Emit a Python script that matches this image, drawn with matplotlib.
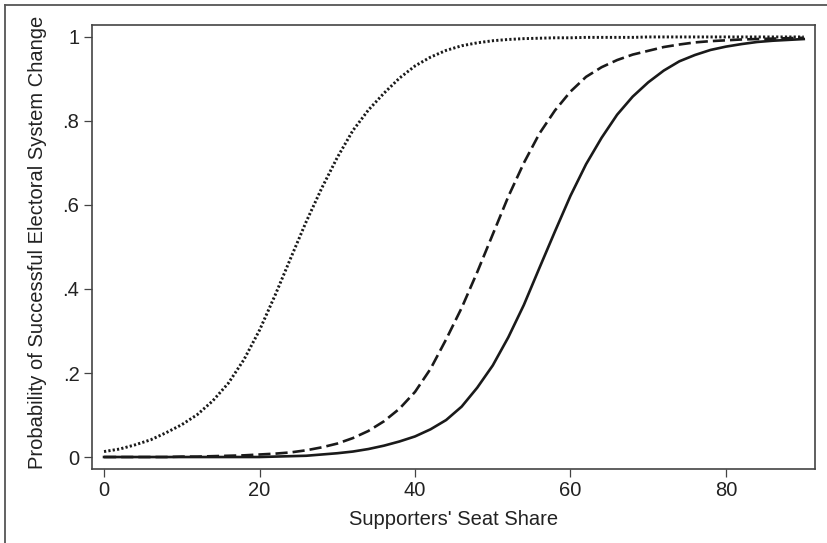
import numpy as np
import matplotlib
matplotlib.use("Agg")
import matplotlib.pyplot as plt
from matplotlib.lines import Line2D

# seat share grid and probabilities
seat_share = np.arange(0, 92, 2)

prob_dotted = [0.013, 0.019, 0.029, 0.041, 0.058, 0.077, 0.101, 0.134, 0.176, 0.232,
               0.302, 0.385, 0.473, 0.560, 0.640, 0.713, 0.777, 0.826, 0.866, 0.902,
               0.931, 0.952, 0.968, 0.979, 0.986, 0.991, 0.994, 0.996, 0.997, 0.998,
               0.998, 0.999, 0.999, 0.999, 0.999, 1.000, 1.000, 1.000, 1.000, 1.000,
               1.000, 1.000, 1.000, 1.000, 1.000, 1.000]

prob_dashed = [0.000, 0.000, 0.000, 0.000, 0.000, 0.001, 0.001, 0.002, 0.003, 0.004,
               0.006, 0.008, 0.011, 0.016, 0.023, 0.032, 0.045, 0.062, 0.085, 0.115,
               0.155, 0.210, 0.280, 0.355, 0.440, 0.530, 0.620, 0.700, 0.770, 0.825,
               0.870, 0.905, 0.928, 0.945, 0.958, 0.967, 0.976, 0.982, 0.987, 0.990,
               0.992, 0.994, 0.995, 0.996, 0.997, 0.998]

prob_solid = [0.000, 0.000, 0.000, 0.000, 0.000, 0.000, 0.000, 0.000, 0.000, 0.000,
              0.000, 0.001, 0.002, 0.003, 0.006, 0.009, 0.013, 0.019, 0.027, 0.037,
              0.049, 0.066, 0.088, 0.120, 0.165, 0.218, 0.285, 0.362, 0.450, 0.537,
              0.622, 0.697, 0.760, 0.815, 0.858, 0.892, 0.920, 0.942, 0.957, 0.969,
              0.977, 0.983, 0.988, 0.991, 0.993, 0.995]

x_ticks = [0, 20, 40, 60, 80]
y_ticks = [0, 0.2, 0.4, 0.6, 0.8, 1.0]
y_tick_labels = ["0", ".2", ".4", ".6", ".8", "1"]

plt.rcParams['font.family'] = ['Liberation Sans', 'DejaVu Sans']

fig = plt.figure(figsize=(8.28, 5.43), dpi=100)
ax = fig.add_axes([0.1111, 0.1363, 0.8732, 0.8177])

ink = '#1a1a1a'
ax.plot(seat_share, prob_dotted, color=ink, lw=2.1, linestyle=(0, (0.75, 0.75)),
        solid_joinstyle='round')
ax.plot(seat_share, prob_dashed, color=ink, lw=1.9, linestyle=(0, (4.6, 1.9)),
        solid_joinstyle='round')
ax.plot(seat_share, prob_solid, color=ink, lw=1.9, solid_joinstyle='round')

ax.set_xlim(-1.55, 91.45)
ax.set_ylim(-0.0285, 1.0285)
ax.set_xticks(x_ticks)
ax.set_yticks(y_ticks)
ax.set_yticklabels(y_tick_labels)
ax.tick_params(length=6, width=0.9, color='#444444', labelsize=14.5, pad=3, labelcolor='#222222')

for s in ax.spines.values():
    s.set_color('#444444')
    s.set_linewidth(1.2)

ax.set_xlabel("Supporters' Seat Share", fontsize=14.5, color='#222222', labelpad=7)
ax.set_ylabel("Probability of Successful Electoral System Change", fontsize=14.5,
              color='#222222', labelpad=11, y=0.511)

# outer frame on the top and left edges of the figure
fig.add_artist(Line2D([5/828, 1], [1 - 5/543, 1 - 5/543], transform=fig.transFigure,
                      color='#555555', lw=1.3))
fig.add_artist(Line2D([5/828, 5/828], [0, 1 - 5/543], transform=fig.transFigure,
                      color='#555555', lw=1.3))

fig.savefig('out.png', dpi=100)
